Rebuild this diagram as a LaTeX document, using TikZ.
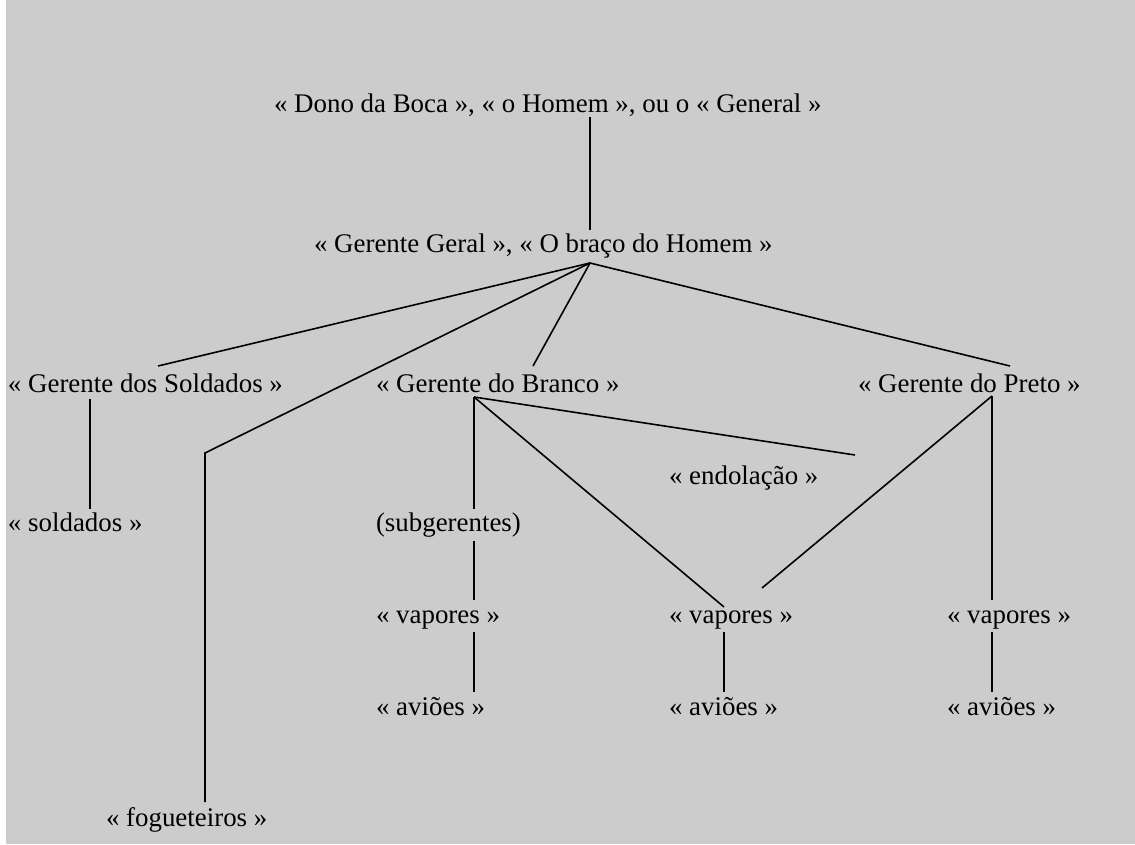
\documentclass[tikz,border=0pt]{standalone}
\usepackage{fontspec}
\setmainfont{Liberation Serif}
\definecolor{bggrey}{HTML}{CCCCCC}
\tikzset{
  lbl/.style={anchor=base west, inner sep=0pt, outer sep=0pt, font=\fontsize{26.9}{30}\selectfont},
  link/.style={draw=black, line width=1.6pt}
}
\begin{document}
\begin{tikzpicture}[x=1pt,y=-1pt]
\useasboundingbox (0,0) rectangle (1135,844);
\fill[white] (0,0) rectangle (1135,844);
\fill[bggrey] (6,0) rectangle (1135,844);
% text nodes
\node[lbl] (dono) at (274,112) {« Dono da Boca », « o Homem », ou o « General »};
\node[lbl] (geral) at (314,252) {« Gerente Geral », « O braço do Homem »};
\node[lbl] (gsold) at (8,392) {« Gerente dos Soldados »};
\node[lbl] (gbranco) at (376,392) {« Gerente do Branco »};
\node[lbl] (gpreto) at (858,392) {« Gerente do Preto »};
\node[lbl] (endol) at (669,484) {« endolação »};
\node[lbl] (sold) at (8,531) {« soldados »};
\node[lbl] (subg) at (376,531) {(subgerentes)};
\node[lbl] (vap1) at (376,623) {« vapores »};
\node[lbl] (vap2) at (669,623) {« vapores »};
\node[lbl] (vap3) at (947,623) {« vapores »};
\node[lbl] (avi1) at (376,715) {« aviões »};
\node[lbl] (avi2) at (669,715) {« aviões »};
\node[lbl] (avi3) at (947,715) {« aviões »};
\node[lbl] (fog) at (106,826) {« fogueteiros »};
% connector end points
\coordinate (donoB) at (590,117);
\coordinate (geralT) at (590,230);
\coordinate (geralB) at (590,263);
\coordinate (gsoldT) at (158,366);
\coordinate (gbrancoT) at (533,366);
\coordinate (gpretoT) at (1010,366);
\coordinate (fogK) at (205,453);
\coordinate (fogT) at (205,802);
\coordinate (gsoldB) at (90,399);
\coordinate (soldT) at (90,509);
\coordinate (gbrancoB) at (474,397);
\coordinate (endolT) at (855,455);
\coordinate (subgT) at (474,509);
\coordinate (subgB) at (474,541);
\coordinate (vap1T) at (474,600);
\coordinate (vap1B) at (474,632);
\coordinate (avi1T) at (474,692);
\coordinate (vap2L) at (724,607);
\coordinate (vap2R) at (762,588);
\coordinate (vap2B) at (724,632);
\coordinate (avi2T) at (724,692);
\coordinate (gpretoB) at (992,396);
\coordinate (vap3T) at (992,600);
\coordinate (vap3B) at (992,632);
\coordinate (avi3T) at (992,692);
% connectors
\draw[link] (donoB) -- (geralT);
\draw[link] (geralB) -- (gsoldT);
\draw[link] (geralB) -- (fogK) -- (fogT);
\draw[link] (geralB) -- (gbrancoT);
\draw[link] (geralB) -- (gpretoT);
\draw[link] (gsoldB) -- (soldT);
\draw[link] (gbrancoB) -- (subgT);
\draw[link] (gbrancoB) -- (vap2L);
\draw[link] (gbrancoB) -- (endolT);
\draw[link] (gpretoB) -- (vap2R);
\draw[link] (gpretoB) -- (vap3T);
\draw[link] (subgB) -- (vap1T);
\draw[link] (vap1B) -- (avi1T);
\draw[link] (vap2B) -- (avi2T);
\draw[link] (vap3B) -- (avi3T);
\end{tikzpicture}
\end{document}
